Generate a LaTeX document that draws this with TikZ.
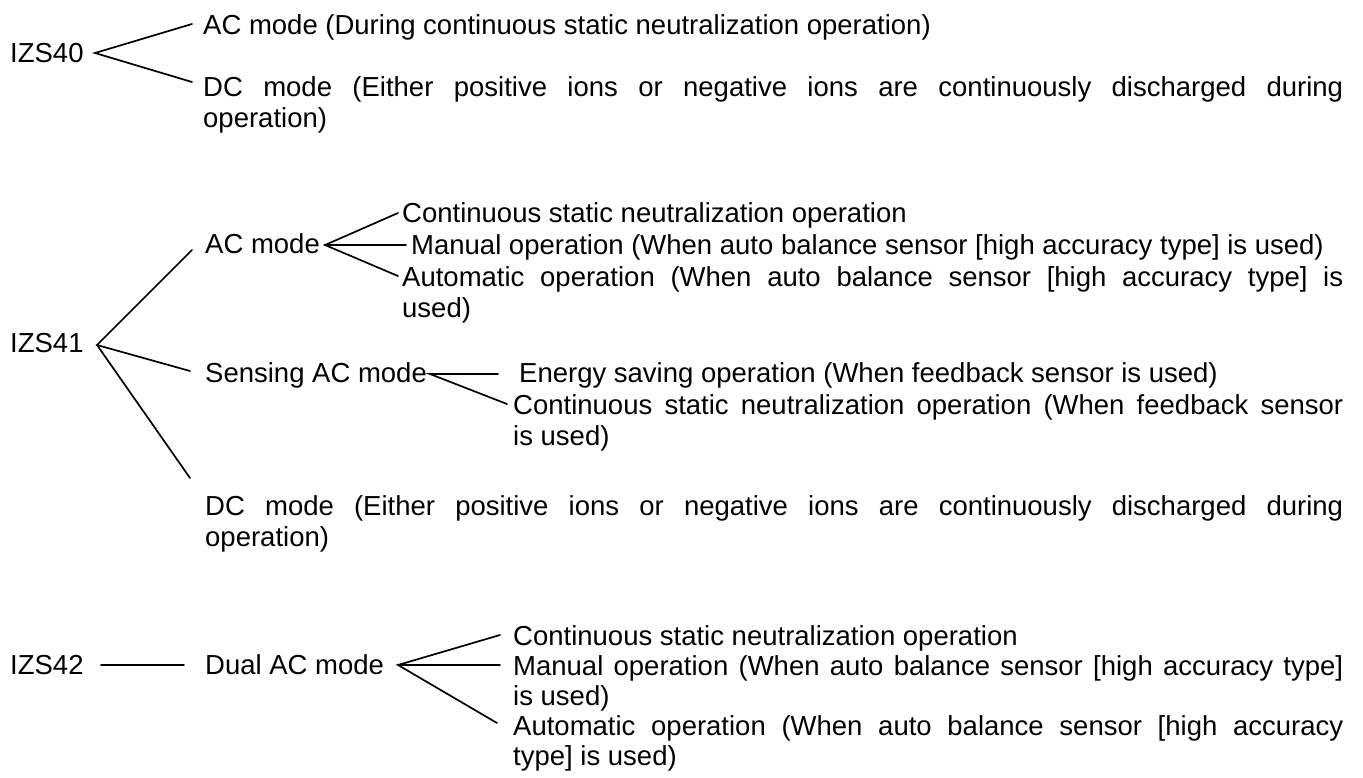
\documentclass[tikz,border=0pt]{standalone}
\usepackage{fontspec}
\setmainfont{Liberation Sans}
\newcommand{\jl}[2]{\makebox[#1][s]{#2}}
\begin{document}
\begin{tikzpicture}[x=1pt,y=-1pt,
  txt/.style={inner sep=0pt, anchor=base west, font=\fontsize{27.5}{31}\selectfont},
  conn/.style={line width=1.7pt, line cap=round}]
\useasboundingbox (0,0) rectangle (1363,777);

% ---------- IZS40 ----------
\node[txt] (izs40) at (10,62) {IZS40};
\node[txt] (ac40) at (203,34) {AC mode (During continuous static neutralization operation)};
\node[txt] (dc40a) at (203,96) {\jl{1140pt}{DC mode (Either positive ions or negative ions are continuously discharged during}};
\node[txt] (dc40b) at (203,127) {operation)};
\coordinate (t40) at (95,53);
\coordinate (e40a) at (192,24);
\coordinate (e40b) at (192,82);
\draw[conn] (e40a) -- (t40) -- (e40b);

% ---------- IZS41 ----------
\node[txt] (izs41) at (10,352) {IZS41};
\coordinate (t41) at (97,345);
\coordinate (e41a) at (192,250);
\coordinate (e41b) at (190,371);
\coordinate (e41c) at (190,478);
\draw[conn] (e41a) -- (t41) -- (e41b);
\draw[conn] (t41) -- (e41c);

\node[txt] (ac41) at (205,253) {AC mode};
\coordinate (tac) at (325,245);
\coordinate (eac1) at (398,213);
\coordinate (eac2) at (406,245);
\coordinate (eac3) at (398,276);
\draw[conn] (eac1) -- (tac) -- (eac3);
\draw[conn] (tac) -- (eac2);
\node[txt] (ac41a) at (402,222) {Continuous static neutralization operation};
\node[txt] (ac41b) at (411,254) {Manual operation (When auto balance sensor [high accuracy type] is used)};
\node[txt] (ac41c) at (402,286) {\jl{941pt}{Automatic operation (When auto balance sensor [high accuracy type] is}};
\node[txt] (ac41d) at (402,317) {used)};

\node[txt] (sac41) at (205,382) {Sensing AC mode};
\coordinate (tsac) at (430,374);
\coordinate (esac1) at (498,374);
\coordinate (esac2) at (507,404);
\draw[conn] (esac1) -- (tsac) -- (esac2);
\node[txt] (sac41a) at (519,382) {Energy saving operation (When feedback sensor is used)};
\node[txt] (sac41b) at (513,414) {\jl{830pt}{Continuous static neutralization operation (When feedback sensor}};
\node[txt] (sac41c) at (513,445) {is used)};

\node[txt] (dc41a) at (205,515) {\jl{1138pt}{DC mode (Either positive ions or negative ions are continuously discharged during}};
\node[txt] (dc41b) at (205,546) {operation)};

% ---------- IZS42 ----------
\node[txt] (izs42) at (10,674) {IZS42};
\coordinate (l42a) at (101,665);
\coordinate (l42b) at (184,665);
\draw[conn] (l42a) -- (l42b);
\node[txt] (dac42) at (205,674) {Dual AC mode};
\coordinate (tdac) at (398,665);
\coordinate (edac1) at (500,635);
\coordinate (edac2) at (500,665);
\coordinate (edac3) at (497,723);
\draw[conn] (edac1) -- (tdac) -- (edac3);
\draw[conn] (tdac) -- (edac2);
\node[txt] (d42a) at (513,645) {Continuous static neutralization operation};
\node[txt] (d42b) at (513,675) {\jl{830pt}{Manual operation (When auto balance sensor [high accuracy type]}};
\node[txt] (d42c) at (513,705) {is used)};
\node[txt] (d42d) at (513,735) {\jl{830pt}{Automatic operation (When auto balance sensor [high accuracy}};
\node[txt] (d42e) at (513,765) {type] is used)};
\end{tikzpicture}
\end{document}
